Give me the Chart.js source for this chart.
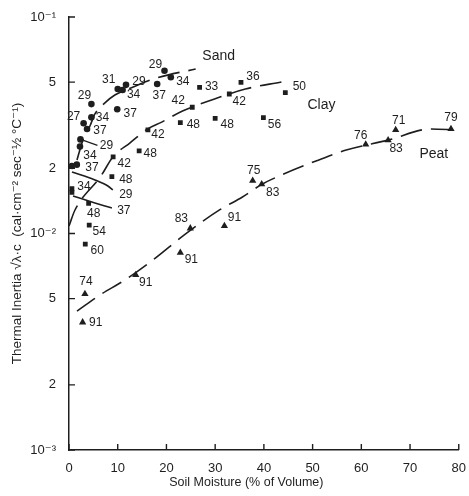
<!DOCTYPE html>
<html>
<head>
<meta charset="utf-8">
<script src="https://cdn.jsdelivr.net/npm/chart.js@4"></script>
<style>
  html, body { margin: 0; padding: 0; background: #fff; }
</style>
</head>
<body>
<canvas id="chart" width="469" height="496"></canvas>
<script>
// Sand samples (circles)
const sandMoisture = [4.6, 3.0, 4.6, 3.7, 10.0, 11.7, 11.0, 9.9, 19.6, 20.9, 18.1, 2.35, 2.25, 0.6, 1.6];
const sandInertia  = [0.0396, 0.0323, 0.0344, 0.0304, 0.0465, 0.0486, 0.0460, 0.0375, 0.0565, 0.0527, 0.0490, 0.0272, 0.0252, 0.0205, 0.0208];
const sandLabels   = ['29', '27', '34', '37', '31', '29', '34', '37', '29', '34', '37', '29', '34', '37', ''];

// Clay samples (squares)
const clayMoisture = [26.8, 35.3, 32.9, 44.4, 30.0, 39.9, 25.3, 22.85, 16.2, 14.4, 9.06, 8.8, 0.6, 0.6, 4.03, 4.15, 3.34];
const clayInertia  = [0.0473, 0.0499, 0.0441, 0.0447, 0.0340, 0.0343, 0.0383, 0.0325, 0.0301, 0.0241, 0.0226, 0.0183, 0.0161, 0.0155, 0.01379, 0.01094, 0.00894];
const clayLabels   = ['33', '36', '42', '50', '48', '56', '42', '48', '42', '48', '42', '48', '34', '', '48', '54', '60'];

// Peat samples (triangles)
const peatMoisture = [3.27, 2.8, 13.7, 22.85, 24.9, 31.9, 37.7, 39.55, 60.9, 65.5, 67.05, 78.4];
const peatInertia  = [0.00526, 0.00389, 0.00643, 0.00815, 0.01057, 0.01083, 0.01754, 0.01688, 0.0258, 0.0270, 0.0301, 0.0304];
const peatLabels   = ['74', '91', '91', '91', '83', '91', '75', '83', '76', '83', '71', '79'];

// fitted curves (dashed)
const sandCurveX = [1.64, 2.86, 4.30, 5.32, 7.37, 9.41, 12.69, 18.0, 26.0];
const sandCurveY = [0.02185, 0.0270, 0.03137, 0.03565, 0.0401, 0.0436, 0.0470, 0.0523, 0.0575];
const clayCurveX = [0, 1.23, 6.55, 9.0, 12.48, 16.16, 19.03, 23.3, 29.87, 36.2, 43.6];
const clayCurveY = [0.01083, 0.01284, 0.01843, 0.02256, 0.02618, 0.0304, 0.0327, 0.0368, 0.0418, 0.0465, 0.0501];
const peatCurveX = [1.64, 6.34, 11.46, 17.19, 24.14, 30.9, 35.6, 39.7, 43.6, 50.7, 56.9, 65.5, 74.3, 79.4];
const peatCurveY = [0.00438, 0.0052, 0.0061, 0.00754, 0.01005, 0.01285, 0.01474, 0.01693, 0.01863, 0.02162, 0.0243, 0.0270, 0.0304, 0.0301];

// short solid curves near the axis
const curve29X = [0.61, 5.32, 7.98, 9.0];
const curve29Y = [0.01923, 0.01766, 0.01657, 0.01589];
const curve37X = [0.82, 5.32, 7.37, 8.8];
const curve37Y = [0.0149, 0.01384, 0.0134, 0.01312];

// axis ticks
const xTickValues = [0, 10, 20, 30, 40, 50, 60, 70, 80];
const yTickValues = [0.001, 0.002, 0.005, 0.01, 0.02, 0.05, 0.1];
const yTickText   = ['10⁻³', '2', '5', '10⁻²', '2', '5', '10⁻¹'];

// where each number sits relative to its marker (px); third entry = leader line
const sandLabelOffsets = [[-7, -8], [-10, -7], [11, 0], [13, 2], [-9, -9], [13, -3], [11, 5], [13, 4], [-9, -6], [12, 4], [2, 12], [26, 6, true], [10, 9], [20, 2], [0, 0]];
const clayLabelOffsets = [[12, -1], [12, -6], [10, 8], [14, -6], [12, 6], [11, 7], [-14, -7], [13, 2], [10, 5], [11, 3], [11, 7], [14, 3], [12, -2], [0, 0], [5, 10], [10, 7], [12, 7]];
const peatLabelOffsets = [[1, -12], [13, 0], [10, 8], [11, 7], [-9, -10], [10, -8], [1, -10], [11, 8], [-5, -9], [8, 9], [3, -9], [0, -11]];

const ink = '#1e1e1e';
const fontFamily = "'Liberation Sans', 'DejaVu Sans', Arial, sans-serif";

const toPoints = (xs, ys) => xs.map((x, i) => ({ x: x, y: ys[i] }));

function curve(xs, ys, name, nameOffset, dashed) {
    return {
        type: 'line',
        data: toPoints(xs, ys),
        borderColor: ink,
        borderWidth: 1.6,
        borderDash: dashed ? [22, 9] : [],
        pointRadius: 0,
        tension: 0.4,
        cubicInterpolationMode: 'monotone',
        fill: false,
        curveName: name,
        curveNameOffset: nameOffset
    };
}

function samples(xs, ys, labels, offsets, style, radius) {
    return {
        type: 'scatter',
        data: toPoints(xs, ys),
        pointStyle: style,
        pointRadius: radius,
        backgroundColor: ink,
        borderColor: ink,
        borderWidth: 0,
        pointLabels: labels,
        labelOffsets: offsets
    };
}

// numbers next to the markers + curve names
const labelPlugin = {
    id: 'labelPlugin',
    afterDatasetsDraw(chart) {
        const ctx = chart.ctx;
        ctx.save();
        ctx.fillStyle = ink;
        ctx.strokeStyle = ink;
        ctx.textAlign = 'center';
        ctx.textBaseline = 'middle';
        chart.data.datasets.forEach((ds, i) => {
            const meta = chart.getDatasetMeta(i);
            if (ds.pointLabels) {
                ctx.font = '12px ' + fontFamily;
                meta.data.forEach((el, j) => {
                    const txt = ds.pointLabels[j];
                    if (!txt) return;
                    const off = ds.labelOffsets[j];
                    const tx = el.x + off[0], ty = el.y + off[1];
                    if (off[2]) {
                        ctx.lineWidth = 1.2;
                        ctx.beginPath();
                        ctx.moveTo(el.x + 3, el.y + 1);
                        ctx.lineTo(tx - 9, ty);
                        ctx.stroke();
                    }
                    ctx.fillText(txt, tx, ty);
                });
            }
            if (ds.curveName) {
                const last = meta.data[meta.data.length - 1];
                const off = ds.curveNameOffset;
                ctx.font = (ds.curveName.length > 2 ? '14px ' : '12px ') + fontFamily;
                ctx.fillText(ds.curveName, last.x + off[0], last.y + off[1]);
            }
        });
        ctx.restore();
    }
};

// ticks pointing into the plot, axis titles
const axisPlugin = {
    id: 'axisPlugin',
    afterDraw(chart) {
        const { ctx, chartArea, scales } = chart;
        ctx.save();
        ctx.strokeStyle = ink;
        ctx.lineWidth = 1.4;
        ctx.beginPath();
        xTickValues.forEach(v => {
            const px = scales.x.getPixelForValue(v);
            ctx.moveTo(px, chartArea.bottom);
            ctx.lineTo(px, chartArea.bottom - 6);
        });
        yTickValues.forEach(v => {
            const py = scales.y.getPixelForValue(v);
            ctx.moveTo(chartArea.left, py);
            ctx.lineTo(chartArea.left + 6, py);
        });
        ctx.stroke();

        ctx.fillStyle = ink;
        ctx.textAlign = 'center';
        ctx.textBaseline = 'middle';
        ctx.font = '12.5px ' + fontFamily;
        ctx.fillText('Soil Moisture (% of Volume)', chartArea.left + chartArea.width * 0.455, chartArea.bottom + 33);

        ctx.font = '13.5px ' + fontFamily;
        ctx.translate(17, (chartArea.top + chartArea.bottom) / 2);
        ctx.rotate(-Math.PI / 2);
        ctx.fillText('Thermal Inertia √λ·c  (cal·cm⁻² sec⁻½ °C⁻¹)', 0, 0);
        ctx.restore();
    }
};

new Chart(document.getElementById('chart'), {
    type: 'scatter',
    data: {
        datasets: [
            curve(sandCurveX, sandCurveY, 'Sand', [23, -13], true),
            curve(clayCurveX, clayCurveY, 'Clay', [40, 23], true),
            curve(peatCurveX, peatCurveY, 'Peat', [-22, 24], true),
            curve(curve29X, curve29Y, '29', [13, 5], false),
            curve(curve37X, curve37Y, '37', [12, 3], false),
            samples(sandMoisture, sandInertia, sandLabels, sandLabelOffsets, 'circle', 3.3),
            samples(clayMoisture, clayInertia, clayLabels, clayLabelOffsets, 'rect', 3.4),
            samples(peatMoisture, peatInertia, peatLabels, peatLabelOffsets, 'triangle', 4.2)
        ]
    },
    options: {
        responsive: false,
        animation: false,
        layout: { padding: { top: 17, right: 9, left: 0, bottom: 0 } },
        plugins: {
            legend: { display: false },
            tooltip: { enabled: false }
        },
        scales: {
            x: {
                type: 'linear',
                min: 0,
                max: 80,
                grid: { display: false },
                border: { display: true, color: ink, width: 1.5 },
                ticks: {
                    stepSize: 10,
                    color: ink,
                    padding: 3,
                    font: { size: 13, family: fontFamily }
                },
                afterFit: (scale) => { scale.height = 46; }
            },
            y: {
                type: 'logarithmic',
                min: 0.001,
                max: 0.1,
                grid: { display: false },
                border: { display: true, color: ink, width: 1.5 },
                afterBuildTicks: (scale) => {
                    scale.ticks = yTickValues.map(v => ({ value: v }));
                },
                ticks: {
                    color: ink,
                    padding: 5,
                    font: { size: 13, family: fontFamily },
                    callback: (value, index) => yTickText[index]
                },
                afterFit: (scale) => { scale.width = 69; }
            }
        }
    },
    plugins: [labelPlugin, axisPlugin]
});
</script>
</body>
</html>
